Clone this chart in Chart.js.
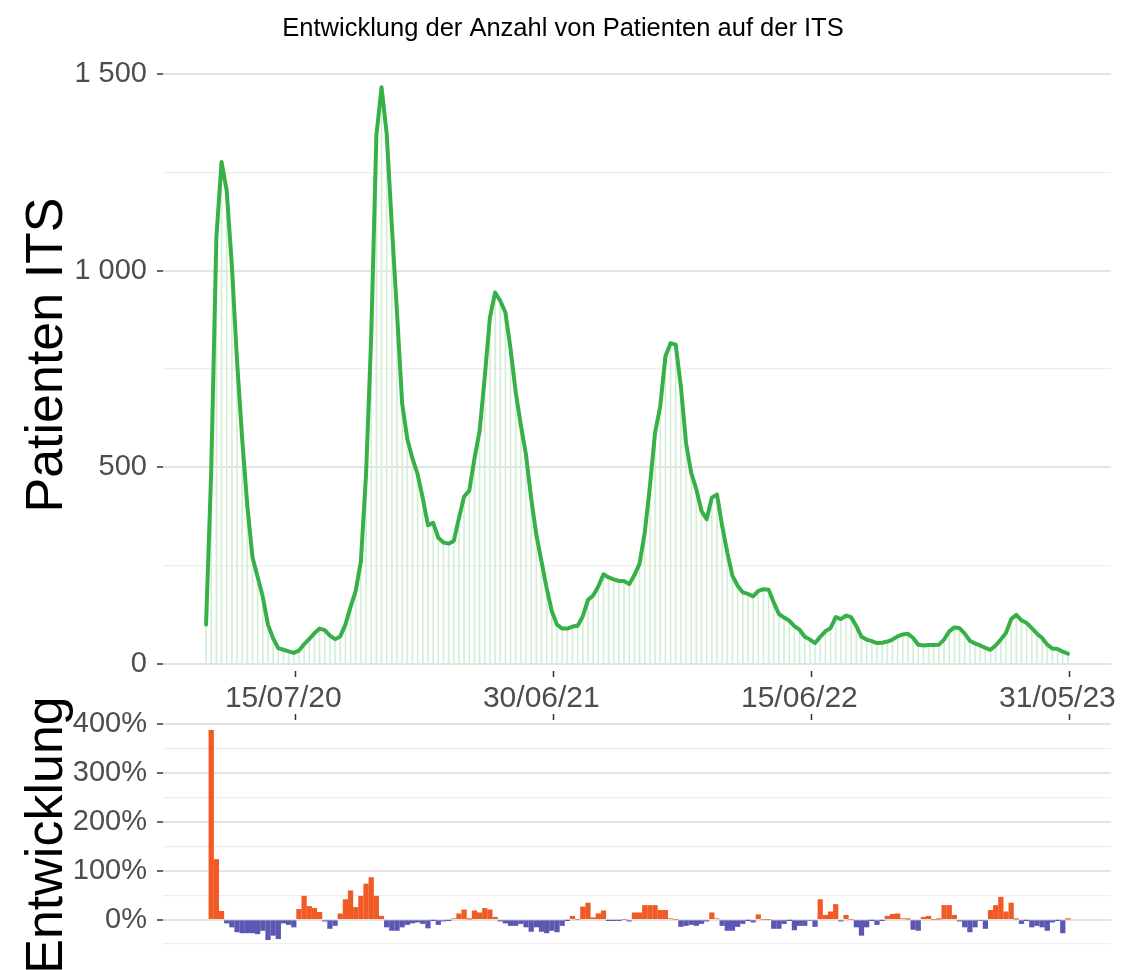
<!DOCTYPE html>
<html lang="de">
<head>
<meta charset="utf-8">
<title>Entwicklung der Anzahl von Patienten auf der ITS</title>
<script src="https://cdn.jsdelivr.net/npm/chart.js@4.4.1/dist/chart.umd.min.js"></script>
<style>
  html, body { margin: 0; padding: 0; background: #fff; }
  #wrap { position: relative; width: 1126px; height: 970px; overflow: hidden; }
  #oben { position: absolute; left: 0; top: 0; width: 1126px; height: 712px; }
  #unten { position: absolute; left: 0; top: 700px; width: 1126px; height: 270px; }
</style>
</head>
<body>
<div id="wrap">
  <div id="oben"><canvas id="grafik-patienten"></canvas></div>
  <div id="unten"><canvas id="grafik-entwicklung"></canvas></div>
</div>
<script>
// Wochenwerte, erste Woche ab Montag 16.03.2020
const startDatum = '2020-03-16';

// Patienten auf der ITS (eine Zahl pro Woche)
const patientenITS = [
  100, 490, 1085, 1277, 1204, 1013, 772, 572, 401, 271,
  221, 170, 100, 65, 40, 36, 32, 28, 34, 50,
  64, 78, 90, 86, 72, 63, 70, 100, 145, 186,
  261, 482, 833, 1344, 1467, 1349, 1114, 893, 662, 572,
  522, 482, 421, 353, 359, 321, 309, 306, 313, 371,
  426, 441, 522, 592, 730, 881, 945, 924, 894, 801,
  691, 607, 531, 421, 328, 260, 193, 134, 100, 90,
  90, 95, 97, 121, 163, 174, 197, 228, 220, 215,
  211, 211, 203, 226, 255, 334, 452, 588, 655, 782,
  816, 812, 706, 562, 486, 444, 389, 368, 423, 431,
  351, 283, 224, 199, 182, 178, 172, 186, 190, 189,
  156, 127, 118, 110, 96, 87, 69, 62, 53, 69,
  83, 91, 119, 114, 123, 119, 96, 69, 62, 58,
  53, 54, 57, 62, 70, 75, 77, 66, 49, 47,
  48, 48, 49, 62, 83, 93, 91, 77, 59, 52,
  47, 41, 36, 47, 62, 79, 114, 125, 111, 104,
  91, 77, 66, 49, 39, 38, 31, 26
];

// Veraenderung zur Vorwoche in Prozent
const entwicklungProzent = [
  null, 387, 123, 17, -7, -15, -25, -27, -27, -27,
  -29, -22, -41, -32, -39, -7, -10, -15, 21, 48,
  27, 23, 15, -3, -18, -12, 12, 41, 59, 25,
  48, 73, 86, 48, 7, -15, -22, -22, -15, -10,
  -7, -5, -8, -17, -1, -10, -3, -1, 2, 12,
  20, 1, 18, 14, 23, 20, 5, -3, -7, -12,
  -12, -8, -15, -24, -15, -24, -27, -22, -25, -12,
  -1, 7, 0, 26, 34, 4, 12, 18, -1, -1,
  -1, 0, -3, 14, 14, 29, 29, 29, 19, 19,
  2, 0, -14, -12, -10, -12, -8, -3, 14, 2,
  -12, -22, -22, -14, -8, -1, -5, 10, 0, 0,
  -18, -18, -8, -1, -21, -12, -12, -2, -14, 41,
  9, 16, 31, -3, 9, 0, -15, -32, -15, -1,
  -10, -1, 7, 11, 12, 2, 1, -20, -22, 5,
  7, 0, 1, 29, 29, 9, -3, -15, -25, -15,
  -2, -18, 19, 29, 46, 16, 34, 1, -8, -1,
  -15, -12, -15, -22, -5, -1, -27, 1
];

// Achsenbeschriftungen
const tickDaten = ['2020-07-15', '2021-06-30', '2022-06-15', '2023-05-31'];
const tickBeschriftungen = ['15/07/20', '30/06/21', '15/06/22', '31/05/23'];
const yTicksPatienten = [0, 250, 500, 750, 1000, 1250, 1500];
const yTicksEntwicklung = [-50, 0, 50, 100, 150, 200, 250, 300, 350, 400];

const SCHRIFT = '"Liberation Sans", Arial, Helvetica, sans-serif';
const GRUEN = '#38b048';
const GRUEN_HELL = '#d3eed5';
const ORANGE = '#f15a24';
const LILA = '#5b57b3';

function tageSeitStart(datum) {
  return (Date.parse(datum) - Date.parse(startDatum)) / 86400000;
}

const wochenTage = patientenITS.map((_, i) => i * 7);
const tickTage = tickDaten.map(tageSeitStart);

// gedrehter Achsentitel (Chart.js wuerde den unteren Titel stauchen)
const achsenTitel = {
  id: 'achsenTitel',
  afterDraw(chart, args, opts) {
    const ctx = chart.ctx;
    ctx.save();
    ctx.translate(opts.x, opts.y);
    ctx.rotate(-Math.PI / 2);
    ctx.font = '52px ' + SCHRIFT;
    ctx.fillStyle = '#000';
    ctx.textAlign = 'center';
    ctx.textBaseline = 'alphabetic';
    ctx.fillText(opts.text, 0, 0);
    ctx.restore();
  }
};

function xAchse(position, hoehe, mitText) {
  return {
    type: 'linear',
    position: position,
    min: -58.4,
    max: 1227.4,
    offset: false,
    afterBuildTicks: (s) => { s.ticks = tickTage.map(v => ({ value: v })); },
    afterFit: (s) => {
      s.height = hoehe;
      s.paddingLeft = 0;
      s.paddingRight = 15; // rechter Rand der Zeichenflaeche
    },
    border: { display: false },
    grid: {
      offset: false,
      drawOnChartArea: false,
      drawTicks: true,
      tickLength: 6,
      tickColor: '#333333',
      tickWidth: 1.5
    },
    ticks: {
      autoSkip: false,
      maxRotation: 0,
      minRotation: 0,
      padding: 4,
      labelOffset: -12,
      color: '#4d4d4d',
      font: { family: SCHRIFT, size: 30 },
      callback: (v, i) => mitText ? tickBeschriftungen[i] : ''
    }
  };
}

function yGitter(istHaupt) {
  return {
    offset: false,
    color: (c) => istHaupt(c.tick) ? '#e3e3e3' : '#eeeeee',
    lineWidth: (c) => istHaupt(c.tick) ? 2 : 1.3,
    tickColor: (c) => istHaupt(c.tick) ? '#333333' : 'rgba(0,0,0,0)',
    tickLength: 6,
    tickWidth: 1.5
  };
}

function tampilkanPatienten() {
  const canvas = document.getElementById('grafik-patienten');
  if (!canvas) {
    console.error('Canvas fuer Patienten nicht gefunden.');
    return;
  }
  const haupt = (t) => t && t.value % 500 === 0;
  new Chart(canvas.getContext('2d'), {
    type: 'line',
    data: {
      datasets: [
        {
          type: 'line',
          data: wochenTage.map((x, i) => ({ x: x, y: patientenITS[i] })),
          borderColor: GRUEN,
          borderWidth: 4,
          pointRadius: 0,
          tension: 0,
          borderJoinStyle: 'round',
          borderCapStyle: 'round',
          order: 1
        },
        {
          type: 'bar',
          data: wochenTage.map((x, i) => ({ x: x, y: patientenITS[i] })),
          backgroundColor: GRUEN_HELL,
          barThickness: 1,
          order: 2
        }
      ]
    },
    options: {
      responsive: true,
      maintainAspectRatio: false,
      animation: false,
      layout: { padding: { left: 0, right: 0, top: 0, bottom: 0 } },
      plugins: {
        legend: { display: false },
        tooltip: { enabled: false },
        title: {
          display: true,
          text: 'Entwicklung der Anzahl von Patienten auf der ITS',
          color: '#000',
          font: { family: SCHRIFT, size: 25.5, weight: 'normal' },
          padding: { top: 14, bottom: 14 }
        },
        achsenTitel: { text: 'Patienten ITS', x: 62, y: 355 }
      },
      scales: {
        x: xAchse('bottom', 41, true),
        y: {
          min: -18,
          max: 1540,
          afterFit: (s) => { s.width = 163; },
          afterBuildTicks: (s) => { s.ticks = yTicksPatienten.map(v => ({ value: v })); },
          border: { display: false },
          grid: yGitter(haupt),
          ticks: {
            autoSkip: false,
            padding: 10,
            color: '#4d4d4d',
            font: { family: SCHRIFT, size: 29 },
            callback: (v) => v % 500 === 0 ? String(v).replace(/\B(?=(\d{3})+(?!\d))/g, ' ') : ''
          }
        }
      }
    },
    plugins: [achsenTitel]
  });
}

function tampilkanEntwicklung() {
  const canvas = document.getElementById('grafik-entwicklung');
  if (!canvas) {
    console.error('Canvas fuer Entwicklung nicht gefunden.');
    return;
  }
  const haupt = (t) => t && t.value % 100 === 0;
  new Chart(canvas.getContext('2d'), {
    type: 'line',
    data: {
      datasets: [{
        type: 'bar',
        data: wochenTage.map((x, i) => ({ x: x, y: entwicklungProzent[i] })),
        backgroundColor: (c) => (c.raw && c.raw.y < 0) ? LILA : ORANGE,
        barThickness: 4.6
      }]
    },
    options: {
      responsive: true,
      maintainAspectRatio: false,
      animation: false,
      layout: { padding: { left: 0, right: 0, top: 0, bottom: 20 } },
      plugins: {
        legend: { display: false },
        tooltip: { enabled: false },
        achsenTitel: { text: 'Entwicklung', x: 62, y: 135 }
      },
      scales: {
        x: xAchse('top', 20, false),
        y: {
          type: 'linear',
          min: -62,
          max: 408,
          afterFit: (s) => {
            s.width = 163;
            s.paddingTop = 0;
            s.paddingBottom = 0;
          },
          afterBuildTicks: (s) => { s.ticks = yTicksEntwicklung.map(v => ({ value: v })); },
          border: { display: false },
          grid: yGitter(haupt),
          ticks: {
            autoSkip: false,
            padding: 10,
            color: '#4d4d4d',
            font: { family: SCHRIFT, size: 29 },
            callback: (v) => v % 100 === 0 ? v + '%' : ''
          }
        }
      }
    },
    plugins: [achsenTitel]
  });
}

document.addEventListener('DOMContentLoaded', () => {
  try {
    tampilkanPatienten();
    tampilkanEntwicklung();
  } catch (error) {
    console.error('Fehler beim Zeichnen:', error);
  }
});
</script>
</body>
</html>
